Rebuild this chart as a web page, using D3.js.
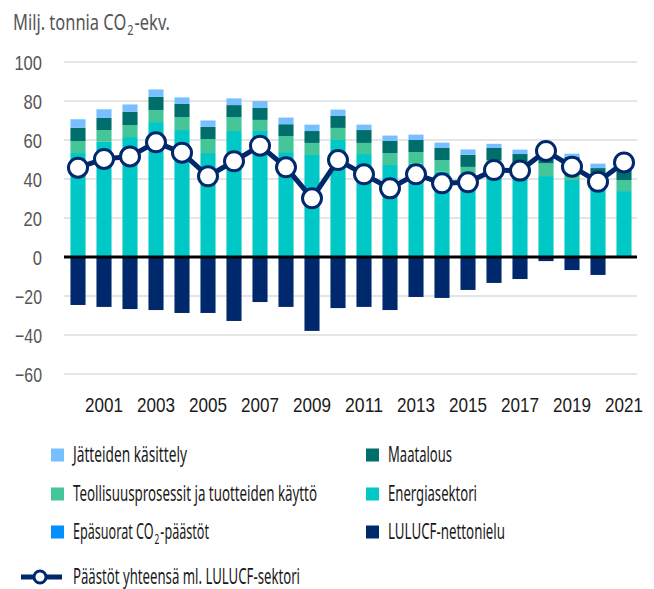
<!DOCTYPE html>
<html><head><meta charset="utf-8">
<script src="https://cdn.jsdelivr.net/npm/d3@7"></script>
<style>
body{margin:0;background:#fff;}
svg{display:block;font-family:"Noto Sans","Open Sans",sans-serif;}
</style></head>
<body>
<svg id="chart" width="654" height="589"></svg>
<script>
const years = [2000,2001,2002,2003,2004,2005,2006,2007,2008,2009,2010,2011,2012,2013,2014,2015,2016,2017,2018,2019,2020,2021];
const energia = [53.3,59.1,61.5,69.2,65.1,53.3,64.6,64.6,53.8,52.3,60.0,52.8,47.2,48.0,43.9,40.6,43.9,40.8,41.5,39.5,34.4,33.8];
const teollisuus = [6.2,6.0,6.2,6.2,6.7,7.2,7.2,5.7,8.2,6.2,6.2,5.7,6.1,5.8,5.8,5.6,5.8,5.8,6.5,5.6,5.0,5.7];
const maatalous = [6.7,6.2,6.7,6.7,6.7,6.2,6.1,6.1,6.1,6.1,6.1,6.6,6.2,6.2,6.2,6.2,6.2,6.2,6.3,6.2,6.2,6.3];
const jatteet = [4.1,4.1,3.5,3.5,3.0,3.0,3.1,3.1,3.1,3.1,3.1,2.6,2.6,2.6,2.6,2.6,2.0,2.1,2.2,1.5,2.1,1.8];
const epasuorat = [0.2,0.2,0.2,0.2,0.2,0.2,0.2,0.2,0.2,0.1,0.1,0.1,0.1,0.1,0.1,0.1,0.1,0.1,0.1,0.1,0.1,0.1];
const lulucf = [-24.6,-25.6,-26.7,-27.2,-28.7,-28.7,-32.8,-23.1,-25.6,-37.9,-26.2,-25.6,-27.2,-20.5,-21.0,-16.9,-13.3,-11.3,-2.1,-6.7,-9.2,0.9];
const yhteensa = [45.8,50.3,51.6,58.8,53.5,41.4,49.1,57.1,46.0,30.1,49.7,42.4,35.2,42.4,37.8,38.3,44.6,44.3,54.4,46.3,38.6,48.5];
const yTicks = [-60,-40,-20,0,20,40,60,80,100];
const xTickYears = [2001,2003,2005,2007,2009,2011,2013,2015,2017,2019,2021];

const series = [
  {key:"energia", name:"Energiasektori", color:"#00c8c6", values:energia},
  {key:"teollisuus", name:"Teollisuusprosessit ja tuotteiden käyttö", color:"#44c699", values:teollisuus},
  {key:"maatalous", name:"Maatalous", color:"#006f6c", values:maatalous},
  {key:"jatteet", name:"Jätteiden käsittely", color:"#78bfff", values:jatteet},
  {key:"epasuorat", name:"Epäsuorat CO2-päästöt", color:"#0090ff", values:epasuorat},
  {key:"lulucf", name:"LULUCF-nettonielu", color:"#00286c", values:lulucf}
];
const colorOf = Object.fromEntries(series.map(s=>[s.key,s.color]));
const rows = years.map((y,i)=>{const o={year:y}; series.forEach(s=>o[s.key]=s.values[i]); return o;});

const FS = 21;
// squeeze a text to a given width, emulating the condensed face of the original
function fit(node, target){
  node.setAttribute("textLength",target.toFixed(2));
  node.setAttribute("lengthAdjust","spacingAndGlyphs");
}
// "…CO2…" as three separate text pieces (subscript 2), squeezed to a total width
function co2Text(parent, x0, y0, before, after, target, fill){
  const parts = [
    {t:before, fs:FS, dy:0},
    {t:"2", fs:14, dy:5},
    {t:after, fs:FS, dy:0}
  ];
  const nodes = parts.map(p=>parent.append("text").attr("y",y0+p.dy).attr("font-size",p.fs).attr("fill",fill).text(p.t));
  const ws = nodes.map(n=>n.node().getComputedTextLength());
  const gap = 1;
  const kk = (target-2*gap)/ws.reduce((a,b)=>a+b,0);
  let cx = x0;
  nodes.forEach((n,i)=>{
    const w = ws[i]*kk;
    n.attr("x",cx); fit(n.node(), w);
    cx += w + gap;
  });
}

const svg = d3.select("#chart");
const x = d3.scaleBand().domain(years).range([65,637]).paddingInner(0.42).paddingOuter(0.21);
const y = d3.scaleLinear().domain([-60,100]).range([374,62]);

// gridlines
svg.append("g").selectAll("line").data(yTicks.filter(t=>t!==0)).join("line")
  .attr("x1",64).attr("x2",637).attr("y1",d=>y(d)).attr("y2",d=>y(d))
  .attr("stroke","#dcdcdc").attr("stroke-width",1.6);

// y axis labels
const yAxis = d3.axisLeft(y).tickValues(yTicks).tickSize(0).tickPadding(0)
  .tickFormat(d=> d<0 ? "\u2212"+Math.abs(d) : String(d));
const ya = svg.append("g").attr("transform","translate(42,0)").call(yAxis);
ya.select(".domain").remove();
ya.selectAll("text").attr("font-size",FS).attr("fill","#555").attr("font-family",null).attr("dy","0.34em")
  .each(function(d){ const s=String(Math.abs(d)); fit(this, s.length*9.2 + (d<0?8.5:0)); });

// stacked bars
const stack = d3.stack().keys(series.map(s=>s.key)).offset(d3.stackOffsetDiverging);
const stacked = stack(rows);
svg.append("g").selectAll("g").data(stacked).join("g").attr("fill",d=>colorOf[d.key])
  .selectAll("rect").data(d=>d).join("rect")
  .attr("x",d=>x(d.data.year)).attr("width",x.bandwidth())
  .attr("y",d=>y(Math.max(d[0],d[1]))).attr("height",d=>Math.abs(y(d[0])-y(d[1])));

// zero line
svg.append("line").attr("x1",64).attr("x2",637).attr("y1",y(0)).attr("y2",y(0))
  .attr("stroke","#000").attr("stroke-width",3);

// x axis labels
const xAxis = d3.axisBottom(x).tickValues(xTickYears).tickSize(0).tickPadding(0);
const xa = svg.append("g").attr("transform","translate(0,397)").call(xAxis);
xa.select(".domain").remove();
xa.selectAll("text").attr("font-size",FS).attr("fill","#1a1a1a").attr("font-family",null).attr("dy","0.71em")
  .each(function(){ fit(this, 38); });

// total line
const navy = "#00286c";
const line = d3.line().x((d,i)=>x(years[i])+x.bandwidth()/2).y(d=>y(d));
svg.append("path").datum(yhteensa).attr("d",line).attr("fill","none")
  .attr("stroke",navy).attr("stroke-width",5);
svg.append("g").selectAll("circle").data(yhteensa).join("circle")
  .attr("cx",(d,i)=>x(years[i])+x.bandwidth()/2).attr("cy",d=>y(d)).attr("r",9.5)
  .attr("fill","#fff").attr("stroke",navy).attr("stroke-width",3);

// title
co2Text(svg.append("g"), 13, 30, "Milj. tonnia CO", "-ekv.", 157, "#555");

// legend
const legendItems = [
  {key:"jatteet", col:0, row:0, w:114},
  {key:"maatalous", col:1, row:0, w:64},
  {key:"teollisuus", col:0, row:1, w:244},
  {key:"energia", col:1, row:1, w:89},
  {key:"epasuorat", col:0, row:2, w:136},
  {key:"lulucf", col:1, row:2, w:117}
];
const lg = svg.append("g");
const colX = [51,366], rowY = [455,494,532];
legendItems.forEach(it=>{
  const s = series.find(s=>s.key===it.key);
  const g = lg.append("g").attr("transform",`translate(${colX[it.col]},${rowY[it.row]})`);
  g.append("rect").attr("x",0).attr("y",-6.5).attr("width",13).attr("height",13).attr("fill",s.color);
  if (s.key==="epasuorat") co2Text(g, 22, 7, "Epäsuorat CO", "-päästöt", it.w, "#1a1a1a");
  else {
    const t = g.append("text").attr("x",22).attr("y",7).attr("font-size",FS).attr("fill","#1a1a1a").text(s.name);
    fit(t.node(), it.w);
  }
});
const lr = lg.append("g").attr("transform","translate(0,577)");
lr.append("line").attr("x1",21).attr("x2",62).attr("stroke",navy).attr("stroke-width",5);
lr.append("circle").attr("cx",40).attr("r",6).attr("fill","#fff").attr("stroke",navy).attr("stroke-width",3);
const lt = lr.append("text").attr("x",73).attr("y",7).attr("font-size",FS).attr("fill","#1a1a1a").text("Päästöt yhteensä ml. LULUCF-sektori");
fit(lt.node(), 227);
</script>
</body></html>
